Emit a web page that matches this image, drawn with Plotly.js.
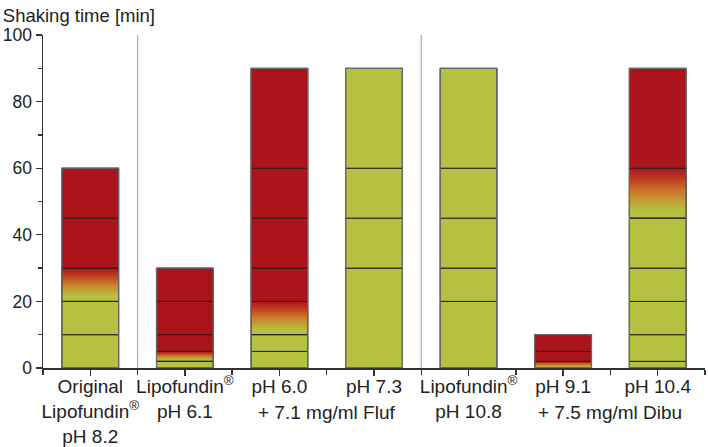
<!DOCTYPE html>
<html><head><meta charset="utf-8">
<script src="https://cdn.plot.ly/plotly-3.0.1.min.js"></script>
<style>html,body{margin:0;padding:0;background:#fff}#chart{width:708px;height:447px}</style>
</head><body><div id="chart"></div>
<script>
// ---- data ----
const categories = [
  "Original<br>Lipofundin<sup>®</sup><br>pH 8.2",
  "Lipofundin<sup>®</sup><br>pH 6.1",
  "pH 6.0",
  "pH 7.3",
  "Lipofundin<sup>®</sup><br>pH 10.8",
  "pH 9.1",
  "pH 10.4"
];
// sampling time boundaries [min] of each bar
const boundaries = [
  [0, 10, 20, 30, 45, 60],
  [0, 2, 5, 10, 20, 30],
  [0, 5, 10, 20, 30, 45, 60, 90],
  [0, 30, 45, 60, 90],
  [0, 20, 30, 45, 60, 90],
  [0, 2, 5, 10],
  [0, 2, 10, 20, 30, 45, 60, 90]
];
// state of each interval: g = stable, t = transition, r = destabilised
const states = [
  ["g", "g", "t", "r", "r"],
  ["g", "t", "r", "r", "r"],
  ["g", "g", "t", "r", "r", "r", "r"],
  ["g", "g", "g", "g"],
  ["g", "g", "g", "g", "g"],
  ["t", "r", "r"],
  ["g", "g", "g", "g", "g", "t", "r"]
];
const groupLabels = ["+ 7.1 mg/ml Fluf", "+ 7.5 mg/ml Dibu"];
const groupMembers = [[2, 3], [5, 6]];
const separatorsAfter = [0, 3];
const yTicks = [0, 20, 40, 60, 80, 100];

// ---- styles ----
const GREEN = [181, 193, 64], RED = [172, 20, 28];
const gradStops = [[0, GREEN], [0.15, GREEN], [0.5, [204, 128, 44]], [0.8, [188, 56, 34]], [1, RED]];
const rgb = c => `rgb(${c.map(Math.round).join(",")})`;
function gradColor(f) {
  for (let k = 1; k < gradStops.length; k++) {
    const [p1, c1] = gradStops[k], [p0, c0] = gradStops[k - 1];
    if (f <= p1) { const u = (f - p0) / (p1 - p0); return rgb(c0.map((v, i) => v + (c1[i] - v) * u)); }
  }
  return rgb(RED);
}
const NSLICE = 30;
const FONT = "Arial, 'Liberation Sans', sans-serif";
const INK = "#222";

// ---- build traces ----
const sx = [], sb = [], sy = [], sc = [];
const gx = [], gb = [], gy = [], gc = [];
const ox = [], oy = [];
boundaries.forEach((b, i) => {
  ox.push(i); oy.push(b[b.length - 1]);
  states[i].forEach((s, j) => {
    const lo = b[j], hi = b[j + 1];
    sx.push(i); sb.push(lo); sy.push(hi - lo);
    if (s === "t") {
      sc.push("rgba(0,0,0,0)");
      for (let k = 0; k < NSLICE; k++) {
        const base = lo + (hi - lo) * k / NSLICE;
        gx.push(i); gb.push(base); gy.push(hi - base); gc.push(gradColor((k + 0.5) / NSLICE));
      }
    } else sc.push(rgb(s === "g" ? GREEN : RED));
  });
});
const W = 0.6;
const traces = [
  {type: "bar", x: gx, base: gb, y: gy, width: W, marker: {color: gc, line: {width: 0}}, hoverinfo: "skip"},
  {type: "bar", x: sx, base: sb, y: sy, width: W, marker: {color: sc, line: {color: "#2a1a1a", width: 1}}, hoverinfo: "skip"},
  {type: "bar", x: ox, y: oy, width: W, marker: {color: "rgba(0,0,0,0)", line: {color: "#6a6a6a", width: 1.3}}, hoverinfo: "skip"}
];

const shapes = separatorsAfter.map(i => ({
  type: "line", xref: "x", yref: "y", x0: i + 0.5, x1: i + 0.5, y0: 0, y1: 100,
  line: {color: "#b4b4b4", width: 1.3}, layer: "below"
}));
const annotations = groupLabels.map((t, k) => ({
  text: t, xref: "x", yref: "paper",
  x: (groupMembers[k][0] + groupMembers[k][1]) / 2, y: 0,
  xanchor: "center", yanchor: "middle", yshift: -44, showarrow: false,
  font: {family: FONT, size: 19, color: INK}
}));

const layout = {
  width: 708, height: 447,
  margin: {l: 43, r: 3, t: 35, b: 79},
  barmode: "overlay", showlegend: false,
  paper_bgcolor: "#fff", plot_bgcolor: "#fff",
  font: {family: FONT, color: INK},
  title: {text: "Shaking time [min]", x: 0.004, xref: "container", xanchor: "left",
          y: 0.966, yref: "container", yanchor: "middle", font: {family: FONT, size: 18.5, color: INK}},
  xaxis: {
    range: [-0.5, 6.5], tickmode: "array", tickvals: categories.map((_, i) => i), ticktext: categories,
    tickangle: 0, automargin: false, ticklabelstandoff: -5,
    ticks: "outside", ticklen: 6, tickwidth: 1.3, tickcolor: "#333",
    showline: true, linecolor: "#333", linewidth: 1.5, showgrid: false, zeroline: false,
    tickfont: {family: FONT, size: 19, color: INK},
    minor: {tickmode: "linear", tick0: 0.5, dtick: 1, ticks: "outside", ticklen: 5, tickwidth: 1.3, tickcolor: "#333", showgrid: false}
  },
  yaxis: {
    range: [0, 100], tickmode: "array", tickvals: yTicks, automargin: false,
    ticks: "outside", ticklen: 6, tickwidth: 1.3, tickcolor: "#333",
    showline: true, linecolor: "#333", linewidth: 1.5, showgrid: false, zeroline: false,
    tickfont: {family: FONT, size: 17.5, color: INK},
    minor: {tickmode: "linear", tick0: 0, dtick: 10, ticks: "outside", ticklen: 4, tickwidth: 1.3, tickcolor: "#333", showgrid: false}
  },
  shapes, annotations
};
Plotly.newPlot("chart", traces, layout, {displayModeBar: false, staticPlot: true});
</script></body></html>
